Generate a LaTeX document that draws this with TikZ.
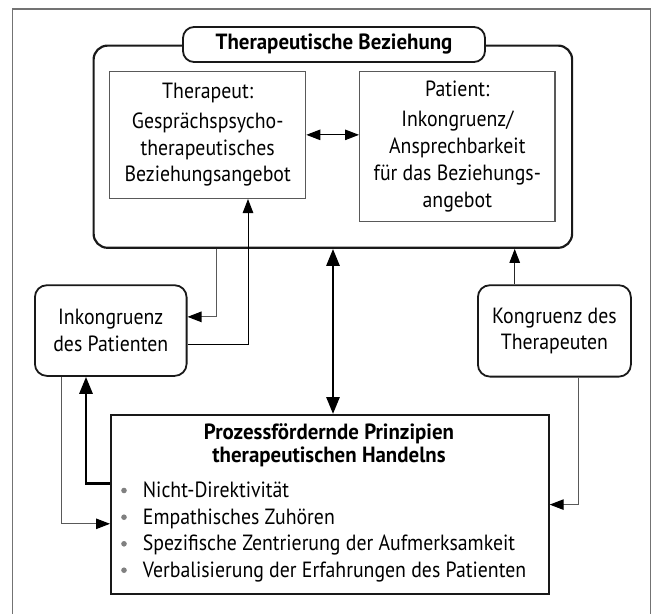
\documentclass[tikz,border=0pt]{standalone}
\usepackage{fontspec}
\setmainfont{PT Sans}[FakeStretch=0.9, BoldFeatures={FakeStretch=0.95}]
\usetikzlibrary{arrows.meta}
\tikzset{
  frame/.style={draw=black!55, line width=1.5pt},
  bigbox/.style={draw=black!90, line width=2.2pt, rounded corners=14pt, inner sep=0pt, anchor=north west},
  titlebox/.style={draw=black!90, fill=white, line width=1.8pt, rounded corners=11pt, inner sep=0pt, font=\fontsize{22}{26.7}\selectfont\bfseries},
  innerbox/.style={draw=black!65, line width=1.3pt, inner sep=0pt, anchor=north west, align=center, font=\fontsize{22}{26.7}\selectfont},
  sidebox/.style={draw=black!90, line width=1.8pt, rounded corners=12pt, inner sep=0pt, anchor=north west, align=center, font=\fontsize{22}{26.7}\selectfont},
  mainbox/.style={draw=black!90, line width=2.2pt, inner sep=0pt, anchor=north west},
  txt/.style={inner sep=0pt, font=\fontsize{22}{26.7}\selectfont},
  btxt/.style={inner sep=0pt, font=\fontsize{22}{26.7}\selectfont\bfseries},
  thinline/.style={draw=black!65, line width=1.1pt, -{Triangle[length=14pt,width=10.5pt,color=black]}},
  darkline/.style={draw=black, line width=1.0pt, -{Triangle[length=14pt,width=10.5pt]}},
  thickline/.style={draw=black, line width=2.8pt, -{Triangle[length=17pt,width=13pt]}},
  bullet/.style={fill=black!50}
}
\begin{document}
\begin{tikzpicture}[x=1pt,y=-1pt]
\useasboundingbox (0,0) rectangle (653,613);
\draw[frame] (12.7,640) -- (12.7,9) -- (650.7,9) -- (650.7,640);

% big box
\node[bigbox, minimum width=478.5pt, minimum height=202.2pt] (big) at (92.5,44.5) {};
\node[titlebox, minimum width=302pt, minimum height=35pt] (title) at (334,44.5) {Therapeutische Beziehung};

\node[innerbox, minimum width=196pt, minimum height=127pt] (ther) at (109,70.7)
  {Therapeut:\\[3.3pt]Gesprächspsycho-\\therapeutisches\\Beziehungsangebot};
\node[innerbox, minimum width=195.3pt, minimum height=150.3pt] (pat) at (359,70.7)
  {Patient:\\[3.3pt]Inkongruenz/\\Ansprechbarkeit\\für das Beziehungs-\\angebot};

\node[sidebox, minimum width=151.7pt, minimum height=90.7pt] (inkp) at (34,284.3)
  {Inkongruenz\\des Patienten};
\node[sidebox, minimum width=153pt, minimum height=91.4pt] (kong) at (477,284.3)
  {Kongruenz des\\Therapeuten};

\node[mainbox, minimum width=437.5pt, minimum height=179pt] (bbox) at (110,414) {};
\node[btxt, anchor=base] (bt1) at (329,439.3) {Prozessfördernde Prinzipien};
\node[btxt, anchor=base] (bt2) at (329,462.5) {therapeutischen Handelns};
\node[txt, anchor=base west] (b1) at (142.7,497.3) {Nicht-Direktivität};
\node[txt, anchor=base west] (b2) at (142.7,524) {Empathisches Zuhören};
\node[txt, anchor=base west] (b3) at (142.7,550.6) {Spezifische Zentrierung der Aufmerksamkeit};
\node[txt, anchor=base west] (b4) at (142.7,577) {Verbalisierung der Erfahrungen des Patienten};
\foreach \n in {b1,b2,b3,b4} \fill[bullet] ([xshift=-18.7pt,yshift=6.8pt]\n.base west) circle (2.8pt);

% connectors
\draw[darkline, {Triangle[length=14pt,width=10.5pt]}-{Triangle[length=14pt,width=10.5pt]}] (ther.east) -- (ther.east -| pat.west);
\draw[thinline] (216.7,0 |- big.south) |- ([yshift=13.7pt]inkp.east);
\draw[darkline] ([yshift=-14.3pt]inkp.east) -| (248,0 |- ther.south);
\draw[thickline, {Triangle[length=17pt,width=13pt]}-{Triangle[length=17pt,width=13pt]}] (333,0 |- big.south) -- (333,0 |- bbox.north);
\draw[thinline, draw=black!85] (514.7,0 |- kong.north) -- (514.7,0 |- big.south);
\draw[thinline] (578.3,0 |- kong.south) |- (bbox.east);
\draw[thinline] (61.7,0 |- inkp.south) |- ([yshift=-19.2pt]bbox.west);
\draw[thickline] ([yshift=21.2pt]bbox.west) -| (86,0 |- inkp.south);
\end{tikzpicture}
\end{document}
